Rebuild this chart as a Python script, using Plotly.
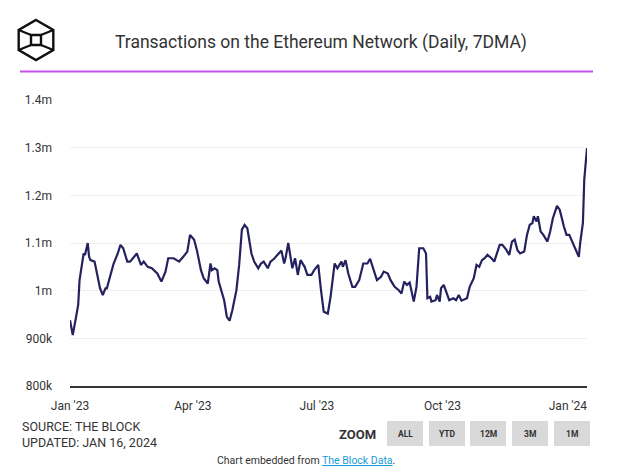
import plotly.graph_objects as go

dates = [
    "2023-01-01", "2023-01-02", "2023-01-03", "2023-01-05", "2023-01-07", "2023-01-08", "2023-01-10",
    "2023-01-11", "2023-01-12", "2023-01-14", "2023-01-15", "2023-01-16", "2023-01-19", "2023-01-21",
    "2023-01-23", "2023-01-25", "2023-01-27", "2023-01-28", "2023-01-31", "2023-02-02", "2023-02-05",
    "2023-02-07", "2023-02-09", "2023-02-12", "2023-02-14", "2023-02-17", "2023-02-19", "2023-02-22",
    "2023-02-24", "2023-02-27", "2023-03-02", "2023-03-06", "2023-03-09", "2023-03-12", "2023-03-14",
    "2023-03-18", "2023-03-22", "2023-03-25", "2023-03-28", "2023-03-30", "2023-04-02", "2023-04-04",
    "2023-04-07", "2023-04-09", "2023-04-12", "2023-04-14", "2023-04-15", "2023-04-17", "2023-04-19",
    "2023-04-20", "2023-04-22", "2023-04-24", "2023-04-26", "2023-04-28", "2023-04-30", "2023-05-03",
    "2023-05-05", "2023-05-07", "2023-05-09", "2023-05-11", "2023-05-14", "2023-05-16", "2023-05-19",
    "2023-05-21", "2023-05-23", "2023-05-26", "2023-05-28", "2023-05-31", "2023-06-02", "2023-06-05",
    "2023-06-07", "2023-06-08", "2023-06-10", "2023-06-12", "2023-06-13", "2023-06-15", "2023-06-17",
    "2023-06-19", "2023-06-22", "2023-06-24", "2023-06-27", "2023-06-29", "2023-07-02", "2023-07-04",
    "2023-07-06", "2023-07-09", "2023-07-11", "2023-07-14", "2023-07-16", "2023-07-19", "2023-07-20",
    "2023-07-22", "2023-07-24", "2023-07-27", "2023-07-29", "2023-08-01", "2023-08-04", "2023-08-07",
    "2023-08-09", "2023-08-12", "2023-08-14", "2023-08-17", "2023-08-19", "2023-08-22", "2023-08-24",
    "2023-08-27", "2023-08-30", "2023-09-01", "2023-09-03", "2023-09-05", "2023-09-07", "2023-09-10",
    "2023-09-12", "2023-09-14", "2023-09-17", "2023-09-19", "2023-09-20", "2023-09-22", "2023-09-23",
    "2023-09-26", "2023-09-27", "2023-09-29", "2023-09-30", "2023-10-02", "2023-10-04", "2023-10-06",
    "2023-10-09", "2023-10-11", "2023-10-13", "2023-10-15", "2023-10-19", "2023-10-21", "2023-10-24",
    "2023-10-26", "2023-10-28", "2023-10-30", "2023-11-01", "2023-11-03", "2023-11-06", "2023-11-08",
    "2023-11-12", "2023-11-14", "2023-11-17", "2023-11-19", "2023-11-21", "2023-11-23", "2023-11-25",
    "2023-11-27", "2023-11-30", "2023-12-02", "2023-12-04", "2023-12-06", "2023-12-07", "2023-12-09",
    "2023-12-10", "2023-12-12", "2023-12-14", "2023-12-17", "2023-12-19", "2023-12-21", "2023-12-24",
    "2023-12-26", "2023-12-29", "2023-12-31", "2024-01-02", "2024-01-05", "2024-01-07", "2024-01-09",
    "2024-01-10", "2024-01-12", "2024-01-13", "2024-01-15",
]

transactions = [
    938000, 924000, 907000, 938000, 970000, 1022000, 1064000,
    1078000, 1075000, 1100000, 1071000, 1064000, 1061000, 1036000,
    1005000, 991000, 1005000, 1005000, 1036000, 1057000, 1078000,
    1096000, 1089000, 1061000, 1061000, 1071000, 1078000, 1054000,
    1061000, 1050000, 1047000, 1036000, 1019000, 1040000, 1068000,
    1068000, 1061000, 1071000, 1082000, 1117000, 1107000, 1085000,
    1043000, 1026000, 1015000, 1057000, 1043000, 1047000, 1043000,
    1019000, 998000, 980000, 945000, 937000, 959000, 1001000,
    1054000, 1128000, 1138000, 1131000, 1078000, 1061000, 1047000,
    1057000, 1061000, 1047000, 1061000, 1068000, 1075000, 1084000,
    1057000, 1068000, 1100000, 1064000, 1047000, 1068000, 1033000,
    1064000, 1050000, 1033000, 1033000, 1043000, 1054000, 1001000,
    956000, 952000, 987000, 1057000, 1047000, 1061000, 1050000,
    1064000, 1036000, 1008000, 1008000, 1022000, 1057000, 1057000,
    1067000, 1040000, 1022000, 1029000, 1040000, 1036000, 1022000,
    1008000, 1001000, 994000, 1019000, 1012000, 1017000, 977000,
    1008000, 1089000, 1089000, 1078000, 984000, 987000, 977000,
    980000, 991000, 977000, 1005000, 1012000, 994000, 980000,
    984000, 980000, 991000, 979000, 984000, 1008000, 1026000,
    1054000, 1050000, 1064000, 1068000, 1075000, 1068000, 1061000,
    1096000, 1096000, 1085000, 1075000, 1103000, 1107000, 1085000,
    1078000, 1082000, 1117000, 1138000, 1142000, 1156000, 1145000,
    1156000, 1124000, 1117000, 1103000, 1124000, 1152000, 1178000,
    1170000, 1135000, 1117000, 1117000, 1096000, 1082000, 1071000,
    1100000, 1142000, 1233000, 1299000,
]

y_tick_values = [800000, 900000, 1000000, 1100000, 1200000, 1300000, 1400000]
y_tick_labels = ["800k", "900k", "1m", "1.1m", "1.2m", "1.3m", "1.4m"]
x_tick_values = ["2023-01-01", "2023-04-01", "2023-07-01", "2023-10-01", "2024-01-01"]
x_tick_labels = ["Jan '23", "Apr '23", "Jul '23", "Oct '23", "Jan '24"]
zoom_buttons = ["ALL", "YTD", "12M", "3M", "1M"]

W, H = 640, 475
ML, MR, MT, MB = 70, 53, 100, 89
PW, PH = W - ML - MR, H - MT - MB


def px(x):
    return (x - ML) / PW


def py(y):
    return (H - MB - y) / PH


FONT = "Roboto, Arial, sans-serif"
TXT = "#333333"

fig = go.Figure()
fig.add_trace(go.Scatter(
    x=dates, y=transactions, mode="lines",
    line=dict(color="#25215e", width=2.2),
    hoverinfo="skip", showlegend=False,
))

shapes = []
annotations = []

# title + purple rule
annotations.append(dict(
    text="Transactions on the Ethereum Network (Daily, 7DMA)",
    x=px(321), y=py(43), xref="paper", yref="paper", showarrow=False,
    xanchor="center", yanchor="middle",
    font=dict(family=FONT, size=17.5, color=TXT),
))
shapes.append(dict(type="line", xref="paper", yref="paper",
                   x0=px(20), x1=px(593), y0=py(71.5), y1=py(71.5),
                   line=dict(color="#c453ee", width=2)))

# logo: hexagon cube
cx, cy, r = 36, 40, 20
hx = [cx, cx + 0.866 * r, cx + 0.866 * r, cx, cx - 0.866 * r, cx - 0.866 * r]
hy = [cy - r, cy - r / 2, cy + r / 2, cy + r, cy + r / 2, cy - r / 2]
path = "M " + " L ".join(f"{px(a)},{py(b)}" for a, b in zip(hx, hy)) + " Z"
shapes.append(dict(type="path", xref="paper", yref="paper", path=path,
                   line=dict(color="#111111", width=2.4)))
s = 5
sq = [(cx - s, cy - s), (cx + s, cy - s), (cx + s, cy + s), (cx - s, cy + s)]
path = "M " + " L ".join(f"{px(a)},{py(b)}" for a, b in sq) + " Z"
shapes.append(dict(type="path", xref="paper", yref="paper", path=path,
                   line=dict(color="#111111", width=2.4)))
for (a, b), (c, d) in [((hx[5], hy[5]), sq[0]), ((hx[1], hy[1]), sq[1]),
                       ((hx[2], hy[2]), sq[2]), ((hx[4], hy[4]), sq[3])]:
    shapes.append(dict(type="line", xref="paper", yref="paper",
                       x0=px(a), y0=py(b), x1=px(c), y1=py(d),
                       line=dict(color="#111111", width=2.2)))

# source text
annotations.append(dict(
    text="SOURCE: THE BLOCK<br>UPDATED: JAN 16, 2024",
    x=px(20), y=py(434), xref="paper", yref="paper", showarrow=False,
    xanchor="left", yanchor="middle", align="left",
    font=dict(family=FONT, size=12.5, color=TXT),
))
annotations.append(dict(
    text="<b>ZOOM</b>", x=px(378), y=py(434), xref="paper", yref="paper",
    showarrow=False, xanchor="right", yanchor="middle",
    font=dict(family=FONT, size=13, color=TXT),
))
bx = [387, 429, 470, 512, 554]
for x0, lab in zip(bx, zoom_buttons):
    shapes.append(dict(type="rect", xref="paper", yref="paper",
                       x0=px(x0), x1=px(x0 + 36), y0=py(446), y1=py(421),
                       fillcolor="#d9d9d9", line=dict(width=0)))
    annotations.append(dict(
        text=f"<b>{lab}</b>", x=px(x0 + 18), y=py(434), xref="paper", yref="paper",
        showarrow=False, xanchor="center", yanchor="middle",
        font=dict(family=FONT, size=8.5, color=TXT),
    ))

annotations.append(dict(
    text='Chart embedded from <span style="color:#1a9ad6"><u>The Block Data</u></span>.',
    x=px(306), y=py(460), xref="paper", yref="paper", showarrow=False,
    xanchor="center", yanchor="middle",
    font=dict(family=FONT, size=10.5, color=TXT),
))

fig.update_layout(
    width=W, height=H,
    margin=dict(l=ML, r=MR, t=MT, b=MB),
    paper_bgcolor="white", plot_bgcolor="white",
    shapes=shapes, annotations=annotations,
    xaxis=dict(
        range=["2023-01-01", "2024-01-15"], tickvals=x_tick_values, ticktext=x_tick_labels,
        showgrid=False, showline=True, linecolor="#333333", linewidth=1.5,
        ticks="", ticklabelstandoff=8, tickfont=dict(family=FONT, size=12, color=TXT),
        zeroline=False,
    ),
    yaxis=dict(
        range=[800000, 1400000], tickvals=y_tick_values, ticktext=y_tick_labels,
        showgrid=True, gridcolor="#f0f0f0", gridwidth=1, zeroline=False,
        ticks="", ticklabelstandoff=17, tickfont=dict(family=FONT, size=12, color=TXT),
    ),
)

fig.write_html(
    "out.html",
    config={"displayModeBar": False},
    post_script="document.body.style.margin='0';document.body.style.padding='0';",
)
